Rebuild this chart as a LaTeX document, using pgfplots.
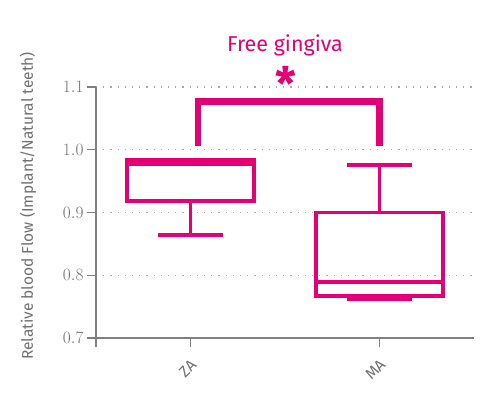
\documentclass[border=0pt]{standalone}
\usepackage{pgfplots}
\pgfplotsset{compat=1.18}
\usepgfplotslibrary{statistics}
\usepackage{fontspec}
\setmainfont{Fira Sans}
\definecolor{tmag}{HTML}{E20074}
\definecolor{axgray}{HTML}{808080}
\definecolor{txgray}{HTML}{707070}
\begin{document}
\begin{tikzpicture}
\useasboundingbox (-96pt,-62pt) rectangle (402pt,338pt);
\begin{axis}[
    at={(0pt,0pt)}, anchor=south west,
    scale only axis,
    width=378pt, height=251pt,
    xmin=0.5, xmax=2.5,
    ymin=0.7, ymax=1.1,
    ytick={0.7,0.8,0.9,1.0,1.1},
    yticklabel style={/pgf/number format/fixed, /pgf/number format/fixed zerofill, /pgf/number format/precision=1,
        font=\fontsize{16.5}{16.5}\selectfont, text=txgray},
    xtick={1,2}, xticklabels={ZA,MA},
    extra x ticks={0.5}, extra x tick labels={},
    xticklabel style={rotate=45, anchor=east, xshift=-5pt, yshift=-13pt, font=\fontsize{15.5}{15.5}\selectfont, text=txgray},
    axis x line*=bottom, axis y line*=left,
    axis line style={axgray, line width=1.3pt},
    tick style={axgray, line width=1.3pt},
    tick align=outside,
    major tick length=9pt,
    ymajorgrids,
    grid style={draw=gray!70, line width=1.2pt, dash pattern=on 1.2pt off 6pt},
    ylabel={Relative blood Flow (Implant/Natural teeth)},
    ylabel style={at={(axis description cs:-0.18,0.526)}, anchor=center, font=\fontsize{15.5}{15.5}\selectfont, text=txgray},
    title={Free gingiva},
    title style={at={(axis description cs:0.5,1)}, anchor=base, yshift=30pt, font=\fontsize{21.5}{21.5}\selectfont, text=tmag},
    clip=false,
    boxplot/draw direction=y,
    ]
    \addplot[draw=tmag, line width=3.5pt, solid,
        boxplot prepared={lower whisker=0.864, lower quartile=0.918, median=0.977,
        upper quartile=0.984, upper whisker=0.984, draw position=1,
        box extend=0.67, whisker extend=0.34}] coordinates {};
    \addplot[draw=tmag, line width=3.5pt, solid,
        boxplot prepared={lower whisker=0.762, lower quartile=0.767, median=0.789,
        upper quartile=0.900, upper whisker=0.976, draw position=2,
        box extend=0.67, whisker extend=0.34}] coordinates {};
    % significance bracket
    \addplot[draw=tmag, line width=6.5pt, line join=miter] coordinates {(1.04,1.006) (1.04,1.077) (2.0,1.077) (2.0,1.006)};
    \node[text=tmag, font=\fontsize{46}{46}\selectfont\bfseries, inner sep=0pt] at (axis cs:1.503,1.106) {*};
\end{axis}
\end{tikzpicture}
\end{document}
